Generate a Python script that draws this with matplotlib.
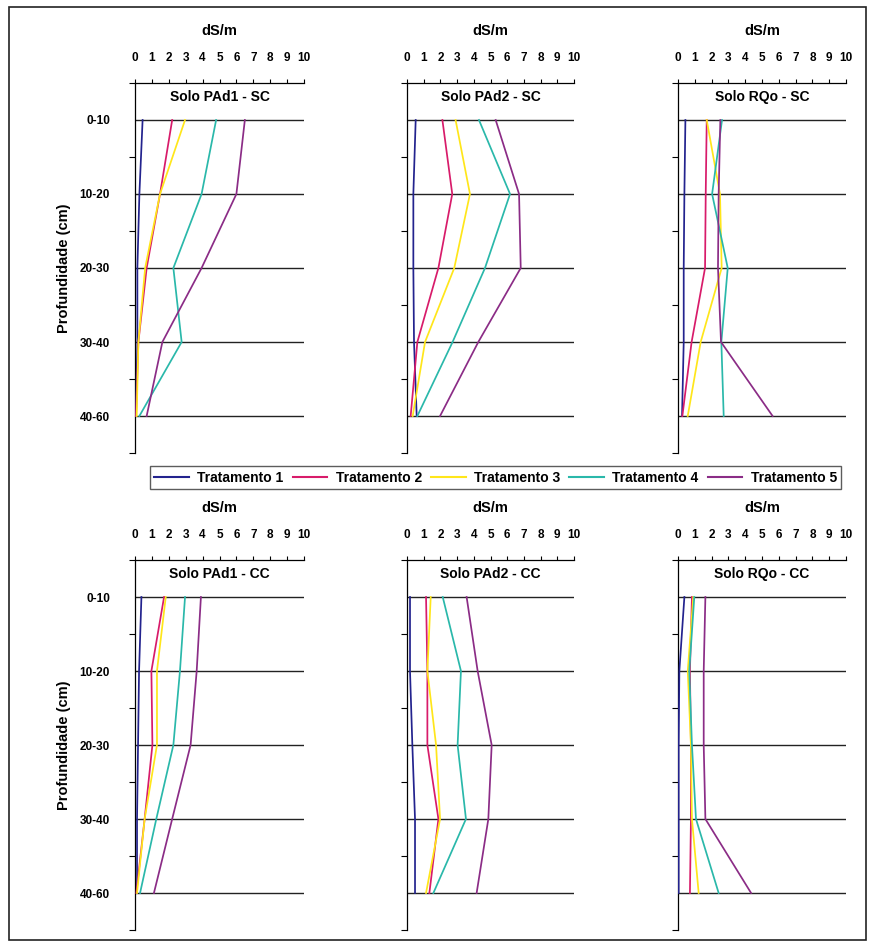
import matplotlib
matplotlib.use("Agg")
import matplotlib.pyplot as plt
from matplotlib import font_manager
from matplotlib.patches import Rectangle
from matplotlib.lines import Line2D

_names = {f.name for f in font_manager.fontManager.ttflist}
FONT = "Liberation Sans Narrow" if "Liberation Sans Narrow" in _names else "Liberation Sans"
plt.rcParams["font.family"] = [FONT, "DejaVu Sans"]

# ---------------- data ----------------
depths = ["0-10", "10-20", "20-30", "30-40", "40-60"]
treatments = ["Tratamento 1", "Tratamento 2", "Tratamento 3", "Tratamento 4", "Tratamento 5"]
colors = ["#23238e", "#d81b6a", "#ffe61a", "#2ab8aa", "#8b2c86"]

titles = ["Solo PAd1 - SC", "Solo PAd2 - SC", "Solo RQo - SC",
          "Solo PAd1 - CC", "Solo PAd2 - CC", "Solo RQo - CC"]

pad1_sc = [[0.45, 0.26, 0.14, 0.14, 0.06],
           [2.20, 1.48, 0.69, 0.20, 0.06],
           [2.96, 1.48, 0.60, 0.20, 0.10],
           [4.80, 3.94, 2.27, 2.76, 0.26],
           [6.50, 6.00, 3.94, 1.62, 0.69]]
pad2_sc = [[0.52, 0.38, 0.38, 0.42, 0.58],
           [2.12, 2.71, 1.88, 0.62, 0.22],
           [2.91, 3.77, 2.83, 1.08, 0.34],
           [4.31, 6.17, 4.67, 2.73, 0.62],
           [5.31, 6.71, 6.81, 4.27, 1.98]]
rqo_sc = [[0.44, 0.38, 0.34, 0.34, 0.24],
          [1.71, 1.65, 1.61, 0.81, 0.26],
          [1.71, 2.50, 2.60, 1.35, 0.58],
          [2.62, 2.03, 2.96, 2.58, 2.72],
          [2.52, 2.42, 2.38, 2.56, 5.63]]
pad1_cc = [[0.38, 0.24, 0.18, 0.12, 0.12],
           [1.72, 0.97, 1.03, 0.57, 0.08],
           [1.82, 1.30, 1.30, 0.57, 0.12],
           [2.96, 2.66, 2.27, 1.26, 0.30],
           [3.90, 3.65, 3.29, 2.20, 1.12]]
pad2_cc = [[0.18, 0.18, 0.32, 0.48, 0.48],
           [1.14, 1.22, 1.22, 1.88, 1.34],
           [1.42, 1.22, 1.74, 1.98, 1.14],
           [2.14, 3.23, 3.03, 3.53, 1.58],
           [3.57, 4.23, 5.07, 4.87, 4.17]]
rqo_cc = [[0.38, 0.08, 0.04, 0.04, 0.04],
          [0.83, 0.71, 0.77, 0.77, 0.71],
          [0.91, 0.58, 0.77, 0.83, 1.23],
          [0.97, 0.67, 0.83, 1.07, 2.42],
          [1.63, 1.53, 1.53, 1.63, 4.35]]
panels = [pad1_sc, pad2_sc, rqo_sc, pad1_cc, pad2_cc, rqo_cc]

xticks = list(range(0, 11))

# ---------------- figure ----------------
W, H = 874, 947
fig = plt.figure(figsize=(W / 100, H / 100), dpi=100)

lefts = [135, 407, 678]
rights = [304, 574, 846]
tops = [83, 560]
bottoms = [453, 930]

def fx(px):
    return px / W

def fy(py):
    return 1 - py / H

ypos = [i + 0.5 for i in range(len(depths))]

for idx, data in enumerate(panels):
    r, c = divmod(idx, 3)
    ax = fig.add_axes([fx(lefts[c]), fy(bottoms[r]),
                       fx(rights[c] - lefts[c]), (bottoms[r] - tops[r]) / H])
    ax.set_xlim(0, 10)
    ax.set_ylim(5, 0)
    for yp in ypos:
        ax.plot([0, 10], [yp, yp], color="#222222", lw=1.0, zorder=1)
    for t, vals in enumerate(data):
        ax.plot(vals, ypos, color=colors[t], lw=1.25, zorder=3)
    ax.xaxis.tick_top()
    ax.xaxis.set_label_position("top")
    ax.set_xticks(xticks)
    ax.set_xticklabels([str(v) for v in xticks], fontsize=8.5, fontweight="bold")
    ax.tick_params(axis="x", direction="out", length=3, width=0.8, pad=11)
    ax.set_xlabel("dS/m", fontsize=10.5, fontweight="bold", labelpad=12)
    ax.set_yticks(range(0, 6))
    ax.set_yticklabels([])
    ax.tick_params(axis="y", which="major", direction="out", length=4, width=0.8)
    ax.set_yticks(ypos, minor=True)
    if c == 0:
        ax.set_yticklabels(depths, minor=True, fontsize=8.5, fontweight="bold")
        ax.set_ylabel("Profundidade (cm)", fontsize=10.5, fontweight="bold", labelpad=6)
    else:
        ax.set_yticklabels([], minor=True)
    ax.tick_params(axis="y", which="minor", length=0, pad=18)
    for s in ["right", "bottom"]:
        ax.spines[s].set_visible(False)
    ax.spines["left"].set_linewidth(0.9)
    ax.spines["top"].set_linewidth(0.9)
    ax.text(5, 0.19, titles[idx], ha="center", va="center",
            fontsize=10, fontweight="bold")
    ax.set_facecolor("none")

# legend
handles = [Line2D([0], [0], color=col, lw=1.5) for col in colors]
leg = fig.legend(handles, treatments, loc="center", ncol=5, mode="expand",
                 bbox_to_anchor=(fx(143), fy(490), fx(848 - 143), 25 / H),
                 prop={"weight": "bold", "size": 10}, frameon=True,
                 fancybox=False, handlelength=2.5, borderpad=0.3,
                 handletextpad=0.6, columnspacing=1.0)
leg.get_frame().set_edgecolor("#333333")
leg.get_frame().set_linewidth(1.0)

# outer frame
fig.add_artist(Rectangle((fx(9), fy(940)), fx(866 - 9), (940 - 7) / H,
                         transform=fig.transFigure, fill=False,
                         edgecolor="#222222", lw=1.2))

fig.savefig("out.png", dpi=100)
